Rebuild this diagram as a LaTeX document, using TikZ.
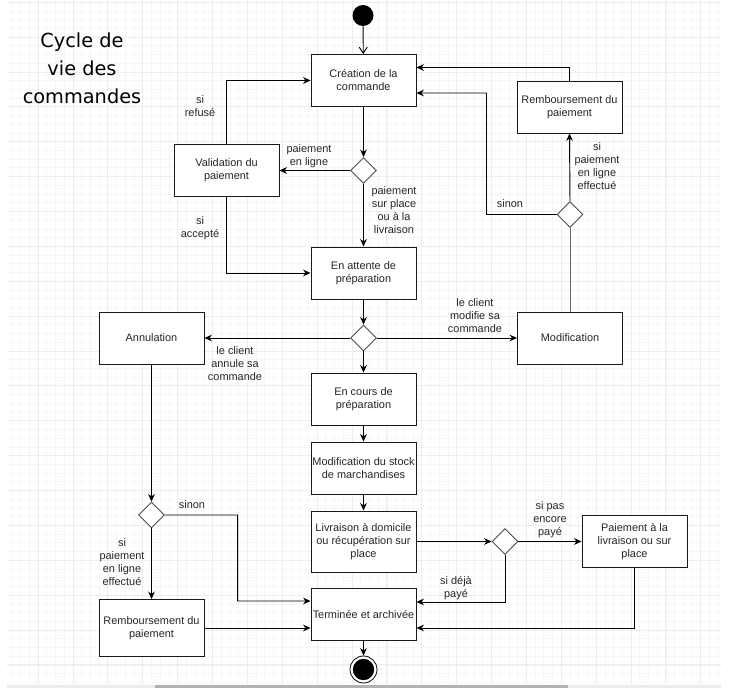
\documentclass[tikz,border=0pt]{standalone}
\usepackage{fontspec}
\setmainfont{Liberation Sans}
\newfontfamily\titlefont{DejaVu Sans}
\usetikzlibrary{arrows.meta,shapes.geometric,calc}
\begin{document}
\begin{tikzpicture}[x=0.75pt,y=-0.75pt,
  font=\fontsize{8.2}{9.75}\selectfont,
  box/.style={draw=black!90,line width=0.7pt,fill=white,minimum width=78.75pt,minimum height=39pt,inner sep=1pt,align=center,text=black!85},
  choice/.style={diamond,draw=black!70,line width=0.7pt,fill=white,minimum width=19.5pt,minimum height=19.5pt,inner sep=0pt},
  flow/.style={line width=0.7pt,-{Stealth[length=5.6pt,width=5pt,inset=1.8pt]}},
  openflow/.style={line width=0.7pt,-{Straight Barb[length=4.5pt,width=6pt]}},
  lbl/.style={align=center,text=black!85,inner sep=0pt},
  minorgrid/.style={draw=black!3.5,line width=0.45pt},
  majorgrid/.style={draw=black!7,line width=0.55pt}]
\useasboundingbox (0,0) rectangle (744,688);
% background grid
\begin{scope}
  \clip (7,0) rectangle (721,684);
  \foreach \i in {0,...,82} \draw[minorgrid] ({3.12+8.72*\i},0) -- ({3.12+8.72*\i},684);
  \foreach \j in {0,...,78} \draw[minorgrid] (0,{2.12+8.72*\j}) -- (744,{2.12+8.72*\j});
  \foreach \k in {-1,...,19} \draw[majorgrid] ({38+34.88*\k},0) -- ({38+34.88*\k},684);
  \foreach \k in {-1,...,18} \draw[majorgrid] (0,{37+34.88*\k}) -- (744,{37+34.88*\k});
\end{scope}
\fill[black!8] (7,685) rectangle (721,688);
\fill[black!30] (155,685) rectangle (568,688);
% title
\node[align=center,font=\titlefont\fontsize{14.5}{21}\selectfont] (title) at (82,68) {Cycle de\\vie des\\commandes};
% nodes
\node[circle,fill=black,minimum size=15.75pt,inner sep=0pt] (start) at (363,15.5) {};
\node[box] (creation) at (363.5,80.5) {Création de la\\commande};
\node[choice] (d1) at (363.5,170.5) {};
\node[box] (valid) at (226.5,170.5) {Validation du\\paiement};
\node[box] (attente) at (363.5,273) {En attente de\\préparation};
\node[choice] (d2) at (363.5,338) {};
\node[box] (annul) at (151.5,338) {Annulation};
\node[box] (modif) at (570,338) {Modification};
\node[choice] (d3) at (570,214.5) {};
\node[box] (remb1) at (569.5,107) {Remboursement du\\paiement};
\node[box] (cours) at (363.5,399) {En cours de\\préparation};
\node[box] (stock) at (363.5,468) {Modification du stock\\de marchandises};
\node[box,minimum height=45.75pt] (livr) at (363.5,541.5) {Livraison à domicile\\ou récupération sur\\place};
\node[choice] (d4) at (505,541.5) {};
\node[box] (paie) at (634.5,541.5) {Paiement à la\\livraison ou sur\\place};
\node[box] (term) at (363.5,614.5) {Terminée et archivée};
\node[choice] (d5) at (151.5,515) {};
\node[box,minimum height=42.75pt] (remb2) at (151.5,628) {Remboursement du\\paiement};
\node[circle,draw=black,line width=0.6pt,fill=white,minimum size=20.25pt,inner sep=0pt] (endo) at (363.5,669.5) {};
\node[circle,fill=black,minimum size=16pt,inner sep=0pt] (endi) at (363.5,669.5) {};
% connectors
\draw[openflow] (start) -- (creation);
\draw[flow] (creation) -- (d1);
\draw[flow] (d1) -- (valid);
\draw[flow] (d1) -- (attente);
\draw[flow] (valid.north) |- (creation.west);
\draw[flow] (valid.south) |- (attente.west);
\draw[flow] (attente) -- (d2);
\draw[flow] (d2) -- (annul);
\draw[flow] (d2) -- (modif);
\draw[flow] (d2) -- (cours);
\draw[flow] (cours) -- (stock);
\draw[flow] (stock) -- (livr);
\draw[flow] (livr) -- (d4);
\draw[flow] (d4) -- (paie);
\draw[flow] (d4.south) |- ([yshift=9.4pt]term.east);
\draw[flow] (paie.south) |- ([yshift=-10.1pt]term.east);
\draw[flow] (term) -- (endo);
\draw[flow] (annul) -- (d5);
\draw[flow] (d5) -- (remb2);
\draw[flow] (d5.east) -| ($(term.west)+(-73,-13.5)$) -- ([yshift=10.1pt]term.west);
\draw[flow] (remb2.east) -- (remb2.east -| term.west);
\draw[line width=0.7pt,draw=black!60] (modif.north) -- (d3.south);
\draw[flow] (d3.north) -- (remb1.south);
\draw[flow] (remb1.north) |- ([yshift=9.75pt]creation.east);
\draw[flow] (d3.west) -| ($(creation.east)+(70,12.5)$) -- ([yshift=-9.4pt]creation.east);
% labels
\node[lbl] (l1) at (309,156) {paiement\\en ligne};
\node[lbl] (l2) at (394,210) {paiement\\sur place\\ou à la\\livraison};
\node[lbl] (l3) at (200,106) {si\\refusé};
\node[lbl] (l4) at (200,228) {si\\accepté};
\node[lbl] (l5) at (235,363.5) {le client\\annule sa\\commande};
\node[lbl] (l6) at (475,315.5) {le client\\modifie sa\\commande};
\node[lbl] (l7) at (597,166) {si\\paiement\\en ligne\\effectué};
\node[lbl] (l8) at (510,204) {sinon};
\node[lbl] (l9) at (550,520) {si pas\\encore\\payé};
\node[lbl] (l10) at (456,588) {si déjà\\payé};
\node[lbl] (l11) at (192,505) {sinon};
\node[lbl] (l12) at (122,562.5) {si\\paiement\\en ligne\\effectué};
\end{tikzpicture}
\end{document}
